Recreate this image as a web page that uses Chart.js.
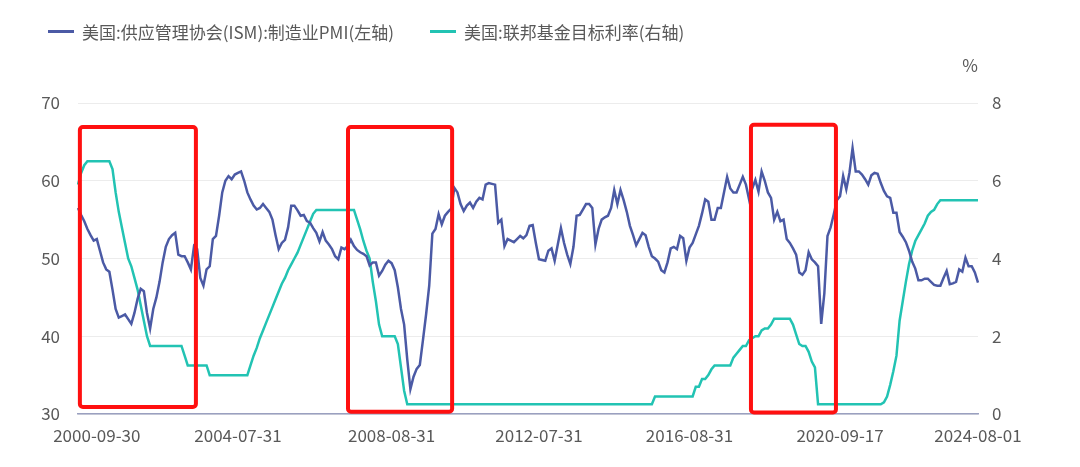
<!DOCTYPE html>
<html>
<head>
<meta charset="utf-8">
<script src="https://cdn.jsdelivr.net/npm/chart.js@4/dist/chart.umd.min.js"></script>
<style>
  html, body { margin: 0; padding: 0; background: #fff; }
  #wrap { position: relative; width: 1080px; height: 467px; }
  #legend { position: absolute; left: 48px; top: 19px; font: 17px "Noto Sans CJK SC", sans-serif; color: #595959; display: flex; }
  .item { display: flex; align-items: center; margin-right: 36px; }
  .mark { width: 26px; height: 3px; margin-right: 8px; }
</style>
</head>
<body>
<div id="wrap">
  <canvas id="chart" width="1080" height="467"></canvas>
  <div id="legend">
    <div class="item"><span class="mark" style="background:#4b5aa5"></span>美国:供应管理协会(ISM):制造业PMI(左轴)</div>
    <div class="item"><span class="mark" style="background:#22c3b3"></span>美国:联邦基金目标利率(右轴)</div>
  </div>
</div>
<script>
// Theme colors
const COLORS = {
    pmi: '#4b5aa5',
    rate: '#22c3b3',
    text: '#595959',
    grid: '#ececec',
    axis: '#9aa0c0',
    box: '#ff1010'
};

// tick labels shown on the x axis and where they sit
const tickLabels = ['2000-09-30', '2004-07-31', '2008-08-31', '2012-07-31', '2016-08-31', '2020-09-17', '2024-08-01'];
const tickIndex = [6, 51, 100, 147, 195, 243, 287];

// ISM manufacturing PMI, monthly from 2000-09
const pmi = [
    56.5, 55.6, 54.8, 53.8, 53.0, 52.3, 52.5, 51.0, 49.5, 48.6, 48.3, 46.0, 43.5, 42.4, 42.6, 42.8,
    42.2, 41.6, 43.0, 44.8, 46.1, 45.8, 43.0, 41.0, 43.5, 45.0, 47.0, 49.5, 51.5, 52.5, 53.0, 53.3,
    50.5, 50.3, 50.3, 49.5, 48.6, 51.6, 51.2, 47.5, 46.5, 48.6, 49.0, 52.5, 52.9, 55.5, 58.5, 60.0,
    60.6, 60.2, 60.8, 61.0, 61.2, 60.0, 58.5, 57.6, 56.8, 56.3, 56.5, 57.0, 56.5, 56.0, 55.0, 53.0,
    51.2, 52.0, 52.4, 54.0, 56.8, 56.8, 56.2, 55.5, 55.6, 54.8,
    54.6, 53.9, 53.3, 52.2, 53.4, 52.3, 51.8, 51.2, 50.3, 49.9, 51.4, 51.2, 51.6, 52.4, 51.6, 51.1,
    50.8, 50.6, 50.3, 49.1, 49.5, 49.5, 47.8, 48.4, 49.2, 49.7, 49.4, 48.5, 46.3, 43.5, 41.5, 37.0,
    33.2, 34.8, 35.8, 36.3, 39.5, 42.8, 46.5, 53.2, 53.8, 55.7, 54.4, 55.5, 56.0, 56.4, 59.1, 58.5,
    57.0, 56.1, 56.8, 57.2, 56.5, 57.3, 57.8, 57.6, 59.5, 59.7, 59.6, 59.5, 54.6, 55.0, 51.6, 52.5,
    52.3, 52.1, 52.5, 52.9, 52.6, 53.0, 54.2, 54.3, 52.0, 49.9, 49.8, 49.7, 51.0, 51.3, 49.7, 51.8,
    53.9, 52.0, 50.5,
    49.3, 51.5, 55.5, 55.6, 56.3, 57.0, 57.0, 56.5, 51.8, 53.8, 55.0, 55.3, 55.5, 56.5, 58.8, 57.0,
    58.8, 57.5, 56.0, 54.2, 53.0, 51.7, 52.5, 53.3, 53.0, 51.5, 50.3, 50.0, 49.6, 48.5, 48.2, 49.5,
    51.3, 51.5, 51.2, 52.9, 52.6, 49.7, 51.4, 52.0, 53.1, 54.2, 55.8, 57.6, 57.3, 55.0, 55.0, 56.5,
    56.5, 58.5, 60.5, 59.0, 58.5, 58.5, 59.5, 60.5, 59.5, 57.6, 59.0, 60.1, 58.6, 61.2, 60.0, 58.5,
    57.8, 55.0, 56.0, 54.8, 55.0, 52.5, 52.0, 51.3, 50.5, 48.2, 47.9, 48.5, 50.8, 49.9, 49.5, 49.0,
    41.6,
    45.5, 52.9, 54.0, 55.7, 57.5, 58.0, 60.6, 58.9, 61.0, 64.2, 61.2, 61.2, 60.8, 60.2, 59.5, 60.7,
    61.0, 60.9, 59.7, 58.7, 58.0, 57.8, 55.9, 55.9, 53.4, 52.8, 52.1, 51.0, 49.6, 48.7, 47.2, 47.2,
    47.4, 47.4, 47.0, 46.6, 46.5, 46.5, 47.5, 48.4, 46.7, 46.8, 47.0, 48.6, 48.3, 50.1, 49.0, 49.0,
    48.2, 46.9
];

// Fed funds target rate (%), same months
const fedRate = [
    5.9, 6.2, 6.4, 6.5, 6.5, 6.5, 6.5, 6.5, 6.5, 6.5, 6.5, 6.3, 5.7, 5.2, 4.8, 4.4,
    4.0, 3.8, 3.5, 3.2, 2.8, 2.4, 2.0, 1.75, 1.75, 1.75, 1.75, 1.75, 1.75, 1.75, 1.75, 1.75,
    1.75, 1.75, 1.5, 1.25, 1.25, 1.25, 1.25, 1.25, 1.25, 1.25, 1.0, 1.0, 1.0, 1.0, 1.0, 1.0,
    1.0, 1.0, 1.0, 1.0, 1.0, 1.0, 1.0, 1.25, 1.5, 1.7, 1.95, 2.15, 2.35, 2.55, 2.75, 2.95,
    3.15, 3.35, 3.5, 3.7, 3.85, 4.0, 4.15, 4.35, 4.55, 4.75, 4.95, 5.15, 5.25,
    5.25, 5.25, 5.25, 5.25, 5.25, 5.25, 5.25, 5.25, 5.25, 5.25, 5.25, 5.25,
    5.0, 4.75, 4.45, 4.2, 4.0, 3.4, 2.9, 2.3, 2.0, 2.0, 2.0, 2.0, 2.0, 1.8, 1.2, 0.6, 0.25,
    0.25, 0.25, 0.25, 0.25, 0.25, 0.25, 0.25, 0.25, 0.25, 0.25, 0.25, 0.25, 0.25,
    0.25, 0.25, 0.25, 0.25, 0.25, 0.25, 0.25, 0.25, 0.25, 0.25, 0.25, 0.25, 0.25,
    0.25, 0.25, 0.25, 0.25, 0.25, 0.25, 0.25, 0.25, 0.25, 0.25, 0.25, 0.25, 0.25,
    0.25, 0.25, 0.25, 0.25, 0.25, 0.25, 0.25, 0.25, 0.25, 0.25, 0.25, 0.25, 0.25,
    0.25, 0.25, 0.25, 0.25, 0.25, 0.25, 0.25, 0.25, 0.25, 0.25, 0.25, 0.25, 0.25,
    0.25, 0.25, 0.25, 0.25, 0.25, 0.25, 0.25, 0.25, 0.25, 0.25, 0.25, 0.25, 0.25,
    0.45, 0.45, 0.45, 0.45, 0.45, 0.45, 0.45, 0.45, 0.45, 0.45, 0.45, 0.45, 0.45,
    0.7, 0.7, 0.9, 0.9, 1.0, 1.15, 1.25, 1.25, 1.25, 1.25, 1.25, 1.25,
    1.45, 1.55, 1.65, 1.75, 1.75, 1.9, 1.95, 2.0, 2.0, 2.15, 2.2, 2.2, 2.3,
    2.45, 2.45, 2.45, 2.45, 2.45, 2.45, 2.3, 2.05, 1.8, 1.75, 1.75, 1.6, 1.35, 1.2, 0.25, 0.25,
    0.25, 0.25, 0.25, 0.25, 0.25, 0.25, 0.25, 0.25, 0.25, 0.25,
    0.25, 0.25, 0.25, 0.25, 0.25, 0.25, 0.25, 0.25, 0.25,
    0.3, 0.45, 0.75, 1.1, 1.5, 2.4, 2.9, 3.4, 3.85, 4.2, 4.45, 4.6, 4.75, 4.9, 5.1, 5.2,
    5.25, 5.4,
    5.5, 5.5, 5.5, 5.5, 5.5, 5.5, 5.5, 5.5, 5.5, 5.5, 5.5, 5.5, 5.5
];

// highlighted periods: index range and PMI range of each red box
const boxFrom = [0.6, 86.1, 214.6];
const boxTo = [37.6, 119.3, 241.7];
const boxTop = [66.9, 66.9, 67.2];
const boxBottom = [30.9, 30.3, 30.2];

// month labels for the category axis
const months = [];
for (let i = 0; i < pmi.length; i++) {
    const d = new Date(2000, 8 + i, 1);
    months.push(d.getFullYear() + '-' + String(d.getMonth() + 1).padStart(2, '0'));
}

const boxPlugin = {
    id: 'boxes',
    afterDatasetsDraw(chart) {
        const { ctx, scales: { x, y } } = chart;
        ctx.save();
        ctx.strokeStyle = COLORS.box;
        ctx.lineWidth = 4;
        boxFrom.forEach((from, i) => {
            const x0 = x.getPixelForValue(from), x1 = x.getPixelForValue(boxTo[i]);
            const y0 = y.getPixelForValue(boxTop[i]), y1 = y.getPixelForValue(boxBottom[i]);
            ctx.beginPath();
            ctx.roundRect(x0, y0, x1 - x0, y1 - y0, 3);
            ctx.stroke();
        });
        // unit label over the right axis
        ctx.fillStyle = COLORS.text;
        ctx.font = '17px "Noto Sans CJK SC", sans-serif';
        ctx.textAlign = 'center';
        ctx.fillText('%', 970, 72);
        ctx.restore();
    }
};

const tickFont = { family: '"Noto Sans CJK SC", sans-serif', size: 17 };

new Chart(document.getElementById('chart'), {
    type: 'line',
    data: {
        labels: months,
        datasets: [
            { data: pmi, yAxisID: 'y', borderColor: COLORS.pmi, borderWidth: 2.5, pointRadius: 0, tension: 0 },
            { data: fedRate, yAxisID: 'y1', borderColor: COLORS.rate, borderWidth: 2.5, pointRadius: 0, tension: 0 }
        ]
    },
    options: {
        responsive: false,
        animation: false,
        layout: { padding: { top: 103, left: 0, right: 0, bottom: 0 } },
        plugins: { legend: { display: false }, tooltip: { enabled: false } },
        scales: {
            x: {
                grid: { display: false, drawTicks: false },
                border: { color: COLORS.axis, width: 1.5 },
                ticks: {
                    autoSkip: false, maxRotation: 0, color: COLORS.text, font: tickFont, padding: 11,
                    callback: (v, i) => {
                        const k = tickIndex.indexOf(i);
                        return k >= 0 ? tickLabels[k] : '';
                    }
                },
                afterFit: s => { s.height = 53; }
            },
            y: {
                position: 'left', min: 30, max: 70,
                ticks: { stepSize: 10, color: COLORS.text, font: tickFont, padding: 18 },
                grid: { color: COLORS.grid, drawTicks: false },
                border: { display: false },
                afterFit: s => { s.width = 78; }
            },
            y1: {
                position: 'right', min: 0, max: 8,
                ticks: { stepSize: 2, color: COLORS.text, font: tickFont, padding: 14 },
                grid: { display: false, drawTicks: false },
                border: { display: false },
                afterFit: s => { s.width = 102; }
            }
        }
    },
    plugins: [boxPlugin]
});
</script>
</body>
</html>
